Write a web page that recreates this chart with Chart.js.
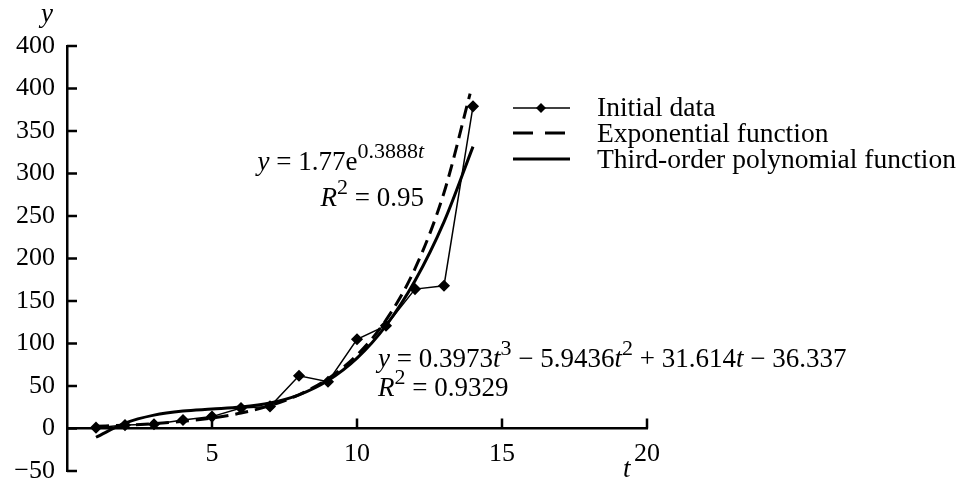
<!DOCTYPE html>
<html>
<head>
<meta charset="utf-8">
<script src="https://cdn.jsdelivr.net/npm/chart.js@4"></script>
<style>
    body { margin: 0; background: #fff; }
    #wrap { position: relative; width: 959px; height: 493px; font-family: "Liberation Serif", serif; color: #000; }
    #myChart { position: absolute; left: 0; top: 0; }
    .txt { position: absolute; font-size: 27px; line-height: 30px; white-space: nowrap; }
    .txt sup { font-size: 22px; position: relative; top: -6px; vertical-align: top; line-height: 1; }
    .legend { position: absolute; left: 510px; top: 93px; }
    .legend .row { position: relative; height: 26px; font-size: 27.5px; line-height: 28px; }
    .legend svg { position: absolute; left: 0; top: 0; }
    .legend span { position: absolute; left: 87px; top: 0; white-space: nowrap; }
</style>
</head>
<body>
<div id="wrap">
    <canvas id="myChart" width="959" height="493"></canvas>

    <div class="txt" style="left:41px; top:-2px;"><i>y</i></div>
    <div class="txt" style="left:623px; top:453px;"><i>t</i></div>

    <div class="txt" style="right:535px; top:146px;"><i>y</i> = 1.77e<sup>0.3888<i>t</i></sup></div>
    <div class="txt" style="right:535px; top:182px;"><i>R</i><sup>2</sup> = 0.95</div>

    <div class="txt" style="left:378px; top:343px;"><i>y</i> = 0.3973<i>t</i><sup>3</sup> − 5.9436<i>t</i><sup>2</sup> + 31.614<i>t</i> − 36.337</div>
    <div class="txt" style="left:378px; top:372px;"><i>R</i><sup>2</sup> = 0.9329</div>

    <div class="legend">
        <div class="row">
            <svg width="64" height="26"><line x1="3" y1="15" x2="60" y2="15" stroke="#000" stroke-width="1.5"/><path d="M31 10 L36 15 L31 20 L26 15 Z" fill="#000"/></svg>
            <span>Initial data</span>
        </div>
        <div class="row">
            <svg width="64" height="26"><line x1="3" y1="14" x2="60" y2="14" stroke="#000" stroke-width="3" stroke-dasharray="20 12"/></svg>
            <span>Exponential function</span>
        </div>
        <div class="row">
            <svg width="64" height="26"><line x1="3" y1="14" x2="60" y2="14" stroke="#000" stroke-width="3"/></svg>
            <span>Third-order polynomial function</span>
        </div>
    </div>
</div>

<script>
/* ===============================
   DATA
=============================== */
const tValues = [1, 2, 3, 4, 5, 6, 7, 8, 9, 10, 11, 12, 13, 14];
const initialData = [1, 4, 5, 10, 14, 24, 26, 62, 55, 105, 121, 164, 168, 379];

const expT = [1, 2, 3, 4, 5, 6, 7, 8, 9, 10, 11, 12, 13, 13.9];
const expValues = [2.6, 3.9, 5.7, 8.4, 12.4, 18.2, 26.9, 39.7, 58.6, 86.4, 127.5, 188.0, 277.4, 394];

const polyT = [1, 2, 3, 4, 5, 6, 7, 8, 9, 10, 11, 12, 13, 14];
const polyValues = [-10.3, 6.3, 15.7, 20.5, 22.8, 25.2, 30.0, 39.6, 56.4, 82.7, 121.0, 173.7, 243.0, 331.6];

const yTickLabels = ["−50", "0", "50", "100", "150", "200", "250", "300", "350", "400", "400"];
const xTickLabels = { 5: "5", 10: "10", 15: "15", 20: "20" };

function toPoints(xs, ys) {
    return xs.map((x, i) => ({ x: x, y: ys[i] }));
}

/* ===============================
   INNER TICK MARKS
=============================== */
const innerTicks = {
    id: "innerTicks",
    afterDraw(chart) {
        const c = chart.ctx;
        const xs = chart.scales.x;
        const ys = chart.scales.y;
        const left = chart.chartArea.left;
        const y0 = ys.getPixelForValue(0);

        c.save();
        c.strokeStyle = "#000";
        c.lineWidth = 2.5;
        c.beginPath();
        ys.ticks.forEach(t => {
            const py = ys.getPixelForValue(t.value);
            c.moveTo(left, py);
            c.lineTo(left + 10, py);
        });
        xs.ticks.forEach(t => {
            if (t.value === 0) return;
            const px = xs.getPixelForValue(t.value);
            c.moveTo(px, y0);
            c.lineTo(px, y0 - 10);
        });
        c.stroke();
        c.restore();
    }
};

/* ===============================
   CHART
=============================== */
Chart.defaults.font.family = "'Liberation Serif', serif";
Chart.defaults.font.size = 26;
Chart.defaults.color = "#000";

const ctx = document.getElementById("myChart");

new Chart(ctx, {
    type: "line",
    data: {
        datasets: [
            {
                label: "Third-order polynomial function",
                data: toPoints(polyT, polyValues),
                borderColor: "#000",
                borderWidth: 3,
                pointRadius: 0,
                cubicInterpolationMode: "monotone"
            },
            {
                label: "Exponential function",
                data: toPoints(expT, expValues),
                borderColor: "#000",
                borderWidth: 3,
                borderDash: [13, 7],
                pointRadius: 0,
                cubicInterpolationMode: "monotone"
            },
            {
                label: "Initial data",
                data: toPoints(tValues, initialData),
                borderColor: "#000",
                backgroundColor: "#000",
                borderWidth: 1.5,
                pointStyle: "rectRot",
                pointRadius: 5,
                tension: 0
            }
        ]
    },
    options: {
        responsive: false,
        animation: false,
        layout: {
            padding: { left: 0, top: 46, right: 312, bottom: 22 }
        },
        plugins: {
            legend: { display: false },
            tooltip: { enabled: false }
        },
        scales: {
            x: {
                type: "linear",
                min: 0,
                max: 20,
                position: { y: 0 },
                afterFit: s => {
                    s.height = 0;
                    s.paddingLeft = 0;
                    s.paddingRight = 0;
                },
                grid: { display: false, drawTicks: false },
                border: { display: true, color: "#000", width: 2.5 },
                ticks: {
                    stepSize: 5,
                    padding: 10,
                    maxRotation: 0,
                    callback: v => xTickLabels[v] || ""
                }
            },
            y: {
                type: "linear",
                min: -50,
                max: 450,
                afterFit: s => {
                    s.width = 67;
                    s.paddingTop = 0;
                    s.paddingBottom = 0;
                },
                grid: { display: false, drawTicks: false },
                border: { display: true, color: "#000", width: 2.5 },
                ticks: {
                    stepSize: 50,
                    padding: 12,
                    callback: (v, i) => yTickLabels[i]
                }
            }
        }
    },
    plugins: [innerTicks]
});
</script>
</body>
</html>
